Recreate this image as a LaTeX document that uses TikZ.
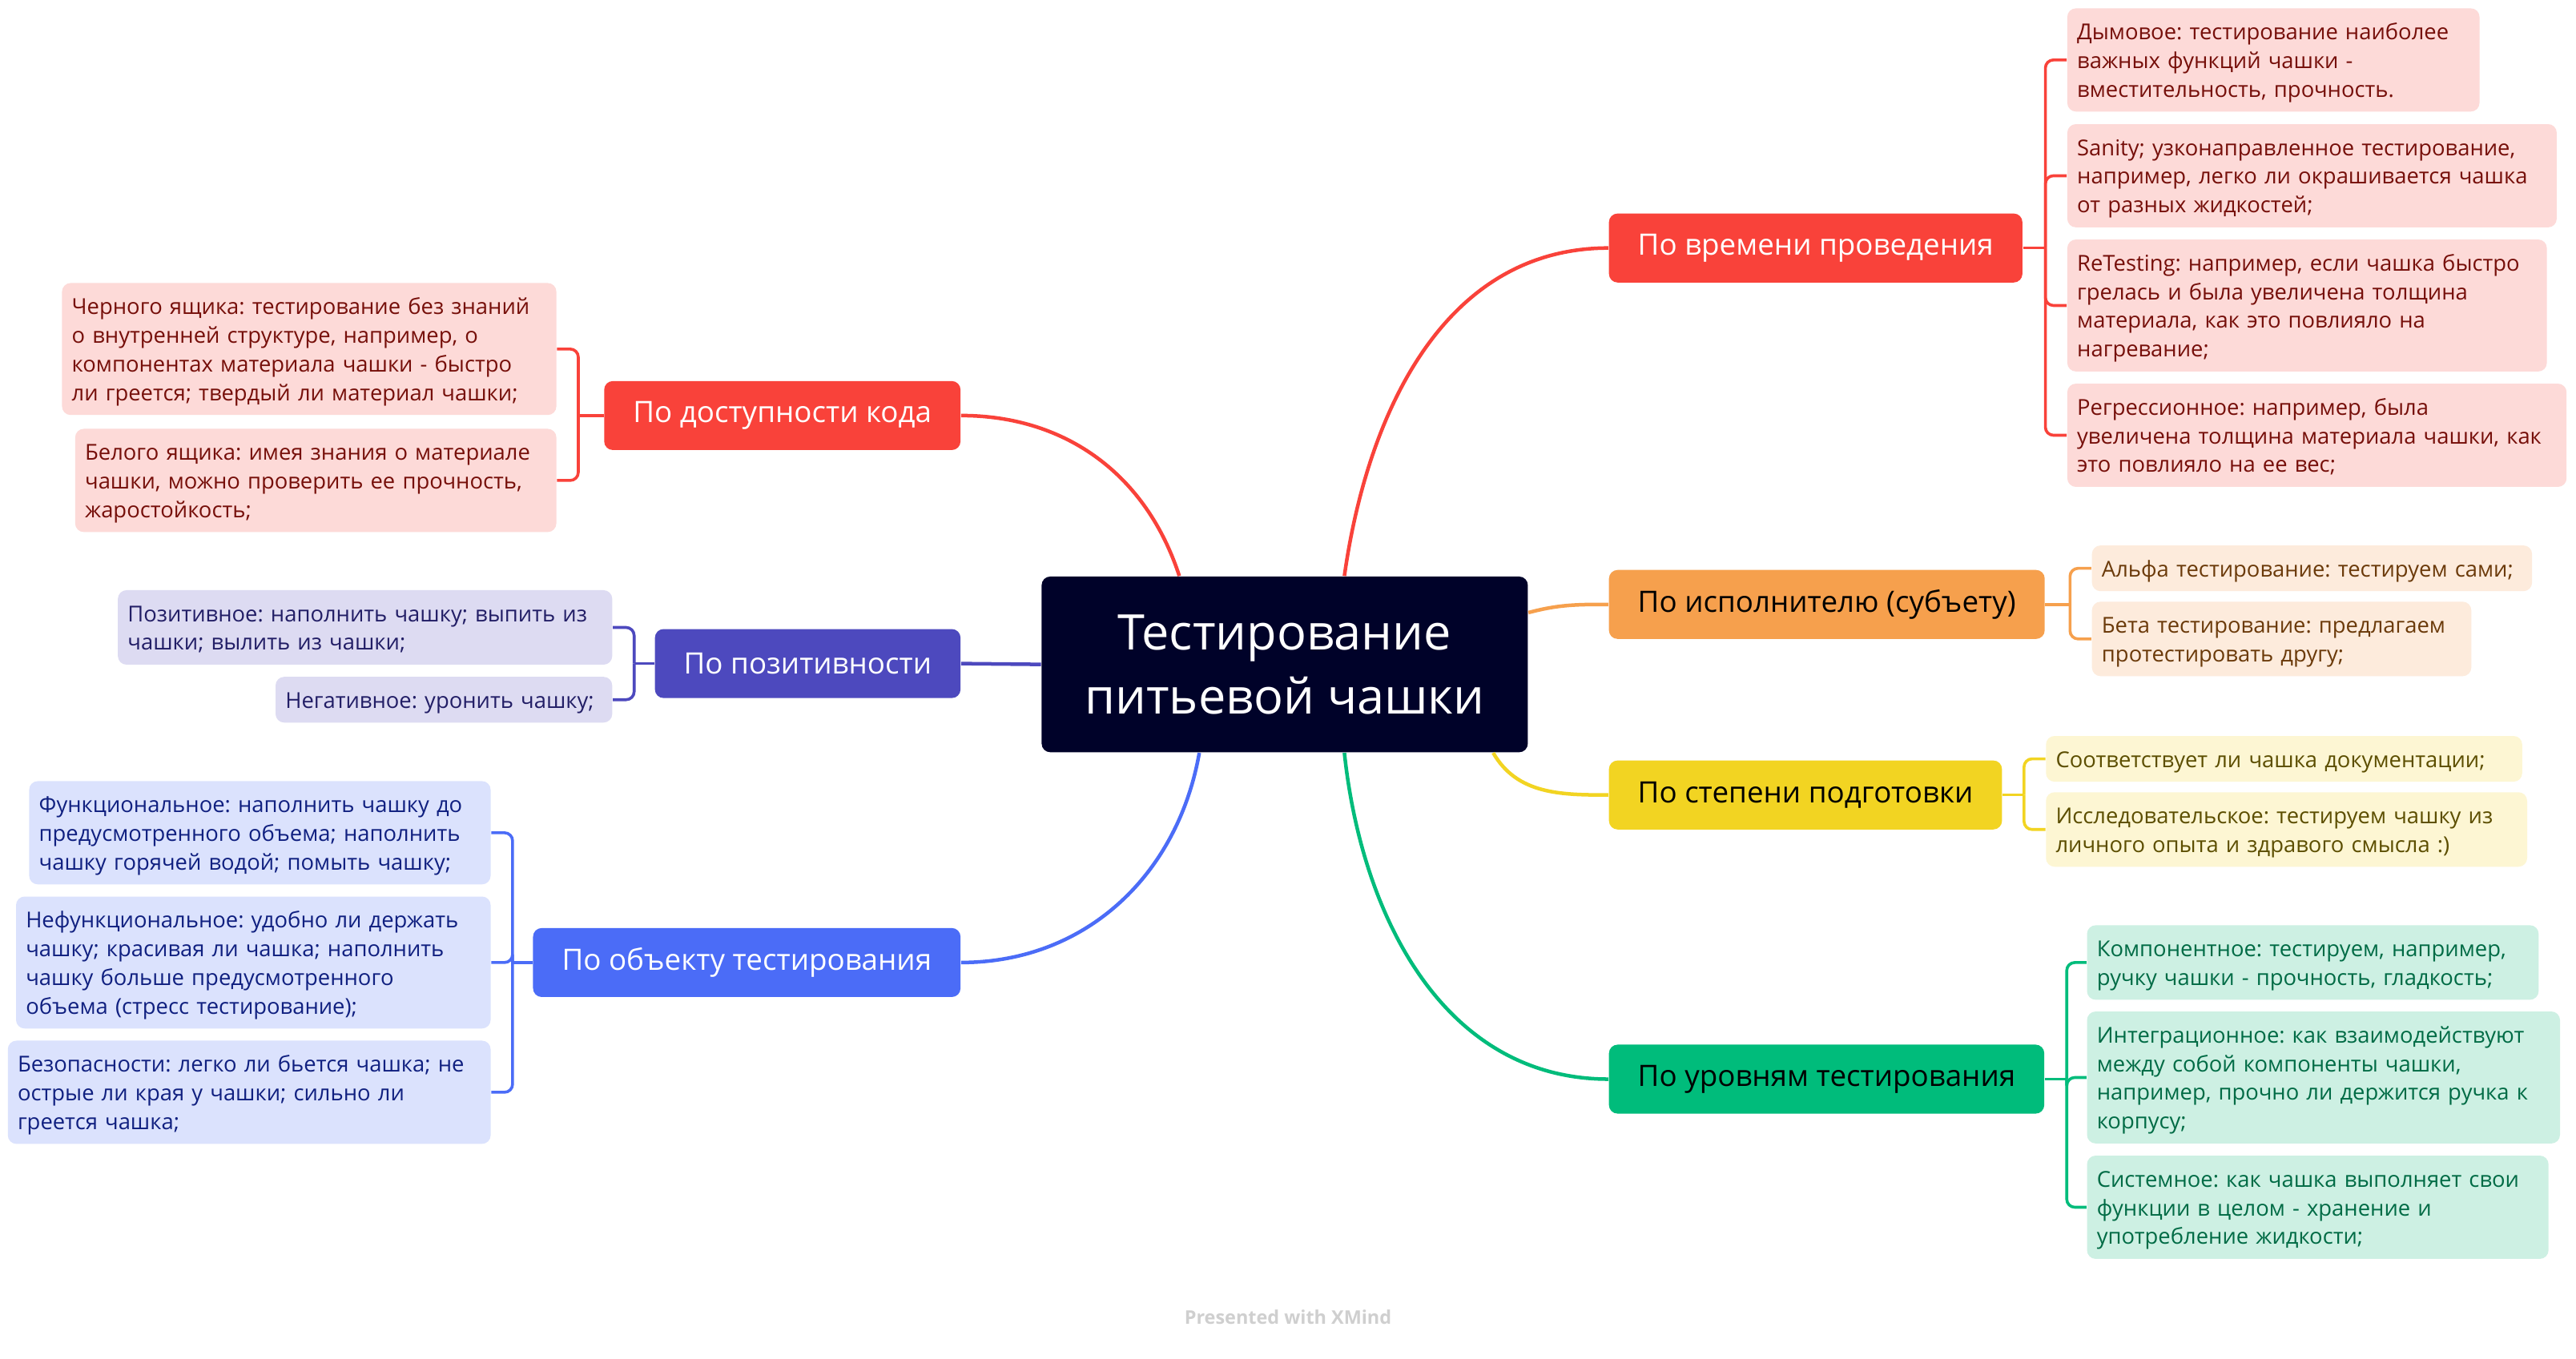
\documentclass[tikz,border=0pt]{standalone}
\usepackage{fontspec}
\setmainfont{Open Sans}
\usetikzlibrary{positioning}
\frenchspacing

\definecolor{rootbg}{HTML}{000229}
\definecolor{redmain}{HTML}{F9423A}
\definecolor{redleaf}{HTML}{FDDAD8}
\definecolor{redtext}{HTML}{760F0A}
\definecolor{orgmain}{HTML}{F6A04D}
\definecolor{orgleaf}{HTML}{FDEBDC}
\definecolor{orgtext}{HTML}{6B3A0A}
\definecolor{yelmain}{HTML}{F2D422}
\definecolor{yelleaf}{HTML}{FDF6D3}
\definecolor{yeltext}{HTML}{5C4E00}
\definecolor{grnmain}{HTML}{00BC7B}
\definecolor{grnleaf}{HTML}{CDF0E3}
\definecolor{grntext}{HTML}{006B45}
\definecolor{purmain}{HTML}{4D49BE}
\definecolor{purleaf}{HTML}{DDDBF2}
\definecolor{purtext}{HTML}{221E66}
\definecolor{blumain}{HTML}{4B6CF7}
\definecolor{bluleaf}{HTML}{DBE2FD}
\definecolor{blutext}{HTML}{102080}

\begin{document}
\begin{tikzpicture}[x=0.02cm, y=-0.02cm,
  topic/.style={rounded corners=3pt, minimum height=23.9pt, inner xsep=10pt, inner ysep=0pt,
    font=\fontsize{10.2}{12}\selectfont},
  leaf/.style={rounded corners=3pt, inner xsep=3.4pt, inner ysep=2.95pt, align=left,
    font=\fontsize{7.6}{9.96}\selectfont, execute at begin node=\rule{0pt}{7.9pt},
    execute at end node=\rule[-2.05pt]{0pt}{2.05pt}},
  branch/.style={line width=1.25pt},
  bracket/.style={line width=1pt, rounded corners=2.8pt}]

\fill[white] (0,0) rectangle (1568,827);
\useasboundingbox (0,0) rectangle (1568,827);

%% root
\node[fill=rootbg, text=white, rounded corners=3pt, minimum width=5.92cm, minimum height=2.14cm,
  align=center, font=\fontsize{17}{22.2}\selectfont] (cup) at (782,404.5) {Тестирование\\питьевой чашки};

%% main topics
\node[topic, fill=redmain, text=white, anchor=west] (time) at (979,151) {По времени проведения};
\node[topic, fill=orgmain, anchor=west] (doer) at (979,368) {По исполнителю (субъету)};
\node[topic, fill=yelmain, anchor=west] (prep) at (979,484) {По степени подготовки};
\node[topic, fill=grnmain, anchor=west] (levels) at (979,657) {По уровням тестирования};
\node[topic, fill=redmain, text=white, anchor=east] (access) at (585,253) {По доступности кода};
\node[topic, fill=purmain, text=white, anchor=east] (posit) at (585,404) {По позитивности};
\node[topic, fill=blumain, text=white, anchor=east] (object) at (585,586) {По объекту тестирования};

\draw[branch, redmain] (cup.56) to[out=82, in=180] (time.west);
\draw[branch, orgmain] (cup.12.4) to[out=15, in=180] (doer.west);
\draw[branch, yelmain] (cup.-23.2) to[out=-60, in=180] (prep.west);
\draw[branch, grnmain] (cup.304) to[out=-84, in=180] (levels.west);
\draw[branch, redmain] (access.east) to[out=0, in=108] (cup.140.5);
\draw[branch, purmain] (posit.east) -- (cup.west);
\draw[branch, blumain] (object.east) to[out=0, in=-100] (cup.226);

%% by time
\node[leaf, fill=redleaf, text=redtext, text width=4.78cm, anchor=west] (smoke) at (1258,36.5)
  {Дымовое: тестирование наиболее\\важных функций чашки -\\вместительность, прочность.};
\node[leaf, fill=redleaf, text=redtext, text width=5.72cm, anchor=west] (sanity) at (1258,107)
  {Sanity; узконаправленное тестирование,\\например, легко ли окрашивается чашка\\от разных жидкостей;};
\node[leaf, fill=redleaf, text=redtext, text width=5.60cm, anchor=west] (retest) at (1258,186)
  {ReTesting: например, если чашка быстро\\грелась и была увеличена толщина\\материала, как это повлияло на\\нагревание;};
\node[leaf, fill=redleaf, text=redtext, text width=5.84cm, anchor=west] (regress) at (1258,265)
  {Регрессионное: например, была\\увеличена толщина материала чашки, как\\это повлияло на ее вес;};
\coordinate (timej) at (1245,151);
\draw[bracket, redmain] (time.east) -- (timej);
\draw[bracket, redmain] (timej) |- (smoke.west);
\draw[bracket, redmain] (timej) |- (sanity.west);
\draw[bracket, redmain] (timej) |- (retest.west);
\draw[bracket, redmain] (timej) |- (regress.west);

%% by doer
\node[leaf, fill=orgleaf, text=orgtext, text width=5.12cm, anchor=west] (alpha) at (1273,346)
  {Альфа тестирование: тестируем сами;};
\node[leaf, fill=orgleaf, text=orgtext, text width=4.38cm, anchor=west] (beta) at (1273,389)
  {Бета тестирование: предлагаем\\протестировать другу;};
\coordinate (doerj) at (1260,368);
\draw[bracket, orgmain] (doer.east) -- (doerj);
\draw[bracket, orgmain] (doerj) |- (alpha.west);
\draw[bracket, orgmain] (doerj) |- (beta.west);

%% by preparation
\node[leaf, fill=yelleaf, text=yeltext, text width=5.56cm, anchor=west] (docs) at (1245,462)
  {Соответствует ли чашка документации;};
\node[leaf, fill=yelleaf, text=yeltext, text width=5.62cm, anchor=west] (explore) at (1245,505)
  {Исследовательское: тестируем чашку из\\личного опыта и здравого смысла :)};
\coordinate (prepj) at (1232,484);
\draw[bracket, yelmain] (prep.east) -- (prepj);
\draw[bracket, yelmain] (prepj) |- (docs.west);
\draw[bracket, yelmain] (prepj) |- (explore.west);

%% by levels
\node[leaf, fill=grnleaf, text=grntext, text width=5.26cm, anchor=west] (unit) at (1270,586)
  {Компонентное: тестируем, например,\\ручку чашки - прочность, гладкость;};
\node[leaf, fill=grnleaf, text=grntext, text width=5.52cm, anchor=west] (integr) at (1270,656)
  {Интеграционное: как взаимодействуют\\между собой компоненты чашки,\\например, прочно ли держится ручка к\\корпусу;};
\node[leaf, fill=grnleaf, text=grntext, text width=5.38cm, anchor=west] (system) at (1270,735)
  {Системное: как чашка выполняет свои\\функции в целом - хранение и\\употребление жидкости;};
\coordinate (levelsj) at (1258,657);
\draw[bracket, grnmain] (levels.east) -- (levelsj);
\draw[bracket, grnmain] (levelsj) |- (unit.west);
\draw[bracket, grnmain] (levelsj) |- (integr.west);
\draw[bracket, grnmain] (levelsj) |- (system.west);

%% by code access
\node[leaf, fill=redleaf, text=redtext, text width=5.78cm, anchor=east] (black) at (339,212.5)
  {Черного ящика: тестирование без знаний\\о внутренней структуре, например, о\\компонентах материала чашки - быстро\\ли греется; твердый ли материал чашки;};
\node[leaf, fill=redleaf, text=redtext, text width=5.62cm, anchor=east] (white) at (339,292.5)
  {Белого ящика: имея знания о материале\\чашки, можно проверить ее прочность,\\жаростойкость;};
\coordinate (accessj) at (352,253);
\draw[bracket, redmain] (access.west) -- (accessj);
\draw[bracket, redmain] (accessj) |- (black.east);
\draw[bracket, redmain] (accessj) |- (white.east);

%% by positivity
\node[leaf, fill=purleaf, text=purtext, text width=5.78cm, anchor=east] (good) at (373,382)
  {Позитивное: наполнить чашку; выпить из\\чашки; вылить из чашки;};
\node[leaf, fill=purleaf, text=purtext, text width=3.86cm, anchor=east] (bad) at (373,426)
  {Негативное: уронить чашку;};
\coordinate (positj) at (386,404);
\draw[bracket, purmain] (posit.west) -- (positj);
\draw[bracket, purmain] (positj) |- (good.east);
\draw[bracket, purmain] (positj) |- (bad.east);

%% by object
\node[leaf, fill=bluleaf, text=blutext, text width=5.38cm, anchor=east] (func) at (299,507)
  {Функциональное: наполнить чашку до\\предусмотренного объема; наполнить\\чашку горячей водой; помыть чашку;};
\node[leaf, fill=bluleaf, text=blutext, text width=5.54cm, anchor=east] (nonfunc) at (299,586)
  {Нефункциональное: удобно ли держать\\чашку; красивая ли чашка; наполнить\\чашку больше предусмотренного\\объема (стресс тестирование);};
\node[leaf, fill=bluleaf, text=blutext, text width=5.64cm, anchor=east] (safety) at (299,665)
  {Безопасности: легко ли бьется чашка; не\\острые ли края у чашки; сильно ли\\греется чашка;};
\coordinate (objectj) at (312,586);
\draw[bracket, blumain] (object.west) -- (objectj);
\draw[bracket, blumain] (objectj) |- (func.east);
\draw[bracket, blumain] (objectj) |- (nonfunc.east);
\draw[bracket, blumain] (objectj) |- (safety.east);

\node[text=black!19, font=\bfseries\fontsize{6.5}{8}\selectfont] (xmind) at (784,802) {Presented with XMind};

\end{tikzpicture}
\end{document}
